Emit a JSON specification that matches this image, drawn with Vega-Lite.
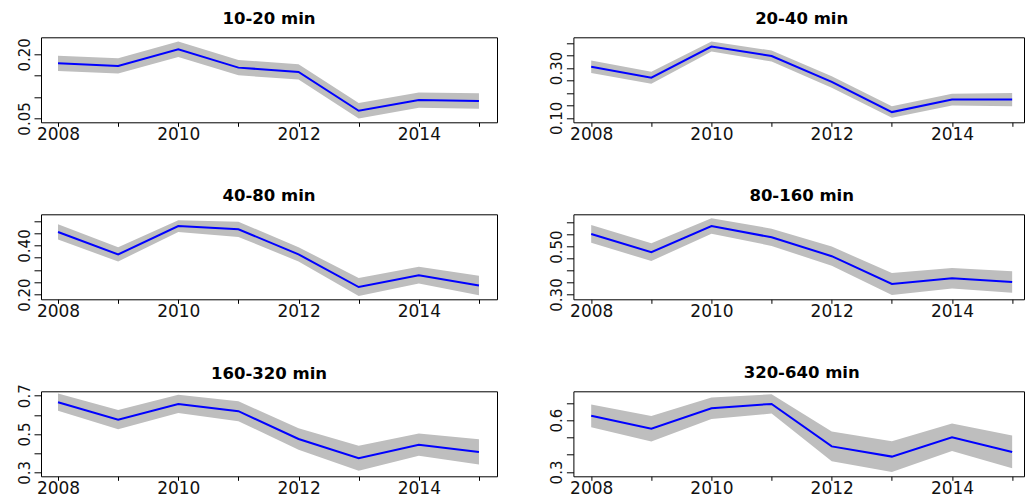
{
  "$schema": "https://vega.github.io/schema/vega-lite/v6.json",
  "autosize": {"type": "none"},
  "padding": {"left": 41, "top": 37.3, "right": 984, "bottom": 461.7},
  "background": "white",
  "datasets": {
    "bands": [
      {"panel": "10-20 min", "year": 2008, "est": 0.179, "lo": 0.161, "hi": 0.197},
      {"panel": "10-20 min", "year": 2009, "est": 0.173, "lo": 0.155, "hi": 0.191},
      {"panel": "10-20 min", "year": 2010, "est": 0.212, "lo": 0.194, "hi": 0.230},
      {"panel": "10-20 min", "year": 2011, "est": 0.169, "lo": 0.151, "hi": 0.187},
      {"panel": "10-20 min", "year": 2012, "est": 0.159, "lo": 0.141, "hi": 0.177},
      {"panel": "10-20 min", "year": 2013, "est": 0.068, "lo": 0.050, "hi": 0.086},
      {"panel": "10-20 min", "year": 2014, "est": 0.093, "lo": 0.075, "hi": 0.111},
      {"panel": "10-20 min", "year": 2015, "est": 0.091, "lo": 0.073, "hi": 0.109},

      {"panel": "20-40 min", "year": 2008, "est": 0.305, "lo": 0.280, "hi": 0.330},
      {"panel": "20-40 min", "year": 2009, "est": 0.261, "lo": 0.237, "hi": 0.285},
      {"panel": "20-40 min", "year": 2010, "est": 0.386, "lo": 0.366, "hi": 0.406},
      {"panel": "20-40 min", "year": 2011, "est": 0.348, "lo": 0.326, "hi": 0.370},
      {"panel": "20-40 min", "year": 2012, "est": 0.244, "lo": 0.221, "hi": 0.267},
      {"panel": "20-40 min", "year": 2013, "est": 0.123, "lo": 0.100, "hi": 0.146},
      {"panel": "20-40 min", "year": 2014, "est": 0.173, "lo": 0.149, "hi": 0.197},
      {"panel": "20-40 min", "year": 2015, "est": 0.173, "lo": 0.146, "hi": 0.200},

      {"panel": "40-80 min", "year": 2008, "est": 0.455, "lo": 0.424, "hi": 0.486},
      {"panel": "40-80 min", "year": 2009, "est": 0.364, "lo": 0.335, "hi": 0.393},
      {"panel": "40-80 min", "year": 2010, "est": 0.479, "lo": 0.455, "hi": 0.503},
      {"panel": "40-80 min", "year": 2011, "est": 0.466, "lo": 0.435, "hi": 0.497},
      {"panel": "40-80 min", "year": 2012, "est": 0.364, "lo": 0.335, "hi": 0.393},
      {"panel": "40-80 min", "year": 2013, "est": 0.231, "lo": 0.194, "hi": 0.268},
      {"panel": "40-80 min", "year": 2014, "est": 0.279, "lo": 0.245, "hi": 0.313},
      {"panel": "40-80 min", "year": 2015, "est": 0.237, "lo": 0.197, "hi": 0.277},

      {"panel": "80-160 min", "year": 2008, "est": 0.553, "lo": 0.516, "hi": 0.590},
      {"panel": "80-160 min", "year": 2009, "est": 0.477, "lo": 0.440, "hi": 0.514},
      {"panel": "80-160 min", "year": 2010, "est": 0.586, "lo": 0.554, "hi": 0.618},
      {"panel": "80-160 min", "year": 2011, "est": 0.539, "lo": 0.503, "hi": 0.575},
      {"panel": "80-160 min", "year": 2012, "est": 0.460, "lo": 0.420, "hi": 0.500},
      {"panel": "80-160 min", "year": 2013, "est": 0.344, "lo": 0.298, "hi": 0.390},
      {"panel": "80-160 min", "year": 2014, "est": 0.368, "lo": 0.325, "hi": 0.411},
      {"panel": "80-160 min", "year": 2015, "est": 0.352, "lo": 0.307, "hi": 0.397},

      {"panel": "160-320 min", "year": 2008, "est": 0.666, "lo": 0.621, "hi": 0.711},
      {"panel": "160-320 min", "year": 2009, "est": 0.575, "lo": 0.525, "hi": 0.625},
      {"panel": "160-320 min", "year": 2010, "est": 0.657, "lo": 0.609, "hi": 0.705},
      {"panel": "160-320 min", "year": 2011, "est": 0.619, "lo": 0.567, "hi": 0.671},
      {"panel": "160-320 min", "year": 2012, "est": 0.474, "lo": 0.418, "hi": 0.530},
      {"panel": "160-320 min", "year": 2013, "est": 0.373, "lo": 0.308, "hi": 0.438},
      {"panel": "160-320 min", "year": 2014, "est": 0.444, "lo": 0.386, "hi": 0.502},
      {"panel": "160-320 min", "year": 2015, "est": 0.406, "lo": 0.340, "hi": 0.472},

      {"panel": "320-640 min", "year": 2008, "est": 0.625, "lo": 0.559, "hi": 0.691},
      {"panel": "320-640 min", "year": 2009, "est": 0.550, "lo": 0.476, "hi": 0.624},
      {"panel": "320-640 min", "year": 2010, "est": 0.669, "lo": 0.607, "hi": 0.731},
      {"panel": "320-640 min", "year": 2011, "est": 0.694, "lo": 0.638, "hi": 0.750},
      {"panel": "320-640 min", "year": 2012, "est": 0.448, "lo": 0.362, "hi": 0.534},
      {"panel": "320-640 min", "year": 2013, "est": 0.389, "lo": 0.300, "hi": 0.478},
      {"panel": "320-640 min", "year": 2014, "est": 0.501, "lo": 0.422, "hi": 0.580},
      {"panel": "320-640 min", "year": 2015, "est": 0.416, "lo": 0.321, "hi": 0.511}
    ]
  },
  "data": {"name": "bands"},
  "bounds": "flush",
  "columns": 2,
  "spacing": {"row": 92, "column": 76.4},
  "concat": [
    {
      "title": {"text": "10-20 min"},
      "width": 456, "height": 85,
      "transform": [{"filter": "datum.panel == '10-20 min'"}],
      "resolve": {"axis": {"y": "independent"}},
      "encoding": {
        "x": {"field": "year", "type": "quantitative", "title": null,
              "scale": {"domain": [2007.717, 2015.3], "nice": false, "zero": false},
              "axis": {"values": [2008, 2009, 2010, 2011, 2012, 2013, 2014, 2015], "format": "d",
                       "labelExpr": "datum.value % 2 == 0 ? datum.label : ''"}}
      },
      "layer": [
        {"mark": {"type": "area", "color": "#bebebe", "opacity": 1},
         "encoding": {
           "y": {"field": "lo", "type": "quantitative", "title": null,
                 "scale": {"domain": [0.041, 0.240], "nice": false, "zero": false},
                 "axis": {"orient": "left", "values": [0.05, 0.10, 0.15, 0.20], "labels": false}},
           "y2": {"field": "hi"}}},
        {"mark": {"type": "line", "color": "#0000ff", "strokeWidth": 2},
         "encoding": {"y": {"field": "est", "type": "quantitative", "title": null,
                            "axis": {"orient": "left", "values": [0.05, 0.20], "format": ".2f", "ticks": false}}}}
      ]
    },
    {
      "title": {"text": "20-40 min", "dx": 3},
      "width": 450.6, "height": 85,
      "transform": [{"filter": "datum.panel == '20-40 min'"}],
      "resolve": {"axis": {"y": "independent"}},
      "encoding": {
        "x": {"field": "year", "type": "quantitative", "title": null,
              "scale": {"domain": [2007.704, 2015.197], "nice": false, "zero": false},
              "axis": {"values": [2008, 2009, 2010, 2011, 2012, 2013, 2014, 2015], "format": "d",
                       "labelExpr": "datum.value % 2 == 0 ? datum.label : ''"}}
      },
      "layer": [
        {"mark": {"type": "area", "color": "#bebebe", "opacity": 1},
         "encoding": {
           "y": {"field": "lo", "type": "quantitative", "title": null,
                 "scale": {"domain": [0.082, 0.423], "nice": false, "zero": false},
                 "axis": {"orient": "left", "values": [0.10, 0.15, 0.20, 0.25, 0.30, 0.35, 0.40], "labels": false}},
           "y2": {"field": "hi"}}},
        {"mark": {"type": "line", "color": "#0000ff", "strokeWidth": 2},
         "encoding": {"y": {"field": "est", "type": "quantitative", "title": null,
                            "axis": {"orient": "left", "values": [0.10, 0.30], "format": ".2f", "ticks": false}}}}
      ]
    },
    {
      "title": {"text": "40-80 min"},
      "width": 456, "height": 85,
      "transform": [{"filter": "datum.panel == '40-80 min'"}],
      "resolve": {"axis": {"y": "independent"}},
      "encoding": {
        "x": {"field": "year", "type": "quantitative", "title": null,
              "scale": {"domain": [2007.717, 2015.3], "nice": false, "zero": false},
              "axis": {"values": [2008, 2009, 2010, 2011, 2012, 2013, 2014, 2015], "format": "d",
                       "labelExpr": "datum.value % 2 == 0 ? datum.label : ''"}}
      },
      "layer": [
        {"mark": {"type": "area", "color": "#bebebe", "opacity": 1},
         "encoding": {
           "y": {"field": "lo", "type": "quantitative", "title": null,
                 "scale": {"domain": [0.181, 0.527], "nice": false, "zero": false},
                 "axis": {"orient": "left", "values": [0.20, 0.25, 0.30, 0.35, 0.40, 0.45, 0.50], "labels": false}},
           "y2": {"field": "hi"}}},
        {"mark": {"type": "line", "color": "#0000ff", "strokeWidth": 2},
         "encoding": {"y": {"field": "est", "type": "quantitative", "title": null,
                            "axis": {"orient": "left", "values": [0.20, 0.40], "format": ".2f", "ticks": false}}}}
      ]
    },
    {
      "title": {"text": "80-160 min", "dx": 3},
      "width": 450.6, "height": 85,
      "transform": [{"filter": "datum.panel == '80-160 min'"}],
      "resolve": {"axis": {"y": "independent"}},
      "encoding": {
        "x": {"field": "year", "type": "quantitative", "title": null,
              "scale": {"domain": [2007.704, 2015.197], "nice": false, "zero": false},
              "axis": {"values": [2008, 2009, 2010, 2011, 2012, 2013, 2014, 2015], "format": "d",
                       "labelExpr": "datum.value % 2 == 0 ? datum.label : ''"}}
      },
      "layer": [
        {"mark": {"type": "area", "color": "#bebebe", "opacity": 1},
         "encoding": {
           "y": {"field": "lo", "type": "quantitative", "title": null,
                 "scale": {"domain": [0.280, 0.635], "nice": false, "zero": false},
                 "axis": {"orient": "left", "values": [0.30, 0.35, 0.40, 0.45, 0.50, 0.55, 0.60], "labels": false}},
           "y2": {"field": "hi"}}},
        {"mark": {"type": "line", "color": "#0000ff", "strokeWidth": 2},
         "encoding": {"y": {"field": "est", "type": "quantitative", "title": null,
                            "axis": {"orient": "left", "values": [0.30, 0.50], "format": ".2f", "ticks": false}}}}
      ]
    },
    {
      "title": {"text": "160-320 min", "offset": 1.5},
      "width": 456, "height": 85,
      "transform": [{"filter": "datum.panel == '160-320 min'"}],
      "resolve": {"axis": {"y": "independent"}},
      "encoding": {
        "x": {"field": "year", "type": "quantitative", "title": null,
              "scale": {"domain": [2007.717, 2015.3], "nice": false, "zero": false},
              "axis": {"values": [2008, 2009, 2010, 2011, 2012, 2013, 2014, 2015], "format": "d",
                       "labelExpr": "datum.value % 2 == 0 ? datum.label : ''"}}
      },
      "layer": [
        {"mark": {"type": "area", "color": "#bebebe", "opacity": 1},
         "encoding": {
           "y": {"field": "lo", "type": "quantitative", "title": null,
                 "scale": {"domain": [0.279, 0.723], "nice": false, "zero": false},
                 "axis": {"orient": "left", "values": [0.3, 0.4, 0.5, 0.6, 0.7], "labels": false}},
           "y2": {"field": "hi"}}},
        {"mark": {"type": "line", "color": "#0000ff", "strokeWidth": 2},
         "encoding": {"y": {"field": "est", "type": "quantitative", "title": null,
                            "axis": {"orient": "left", "values": [0.3, 0.5, 0.7], "format": ".1f", "ticks": false}}}}
      ]
    },
    {
      "title": {"text": "320-640 min", "dx": 3},
      "width": 450.6, "height": 85,
      "transform": [{"filter": "datum.panel == '320-640 min'"}],
      "resolve": {"axis": {"y": "independent"}},
      "encoding": {
        "x": {"field": "year", "type": "quantitative", "title": null,
              "scale": {"domain": [2007.704, 2015.197], "nice": false, "zero": false},
              "axis": {"values": [2008, 2009, 2010, 2011, 2012, 2013, 2014, 2015], "format": "d",
                       "labelExpr": "datum.value % 2 == 0 ? datum.label : ''"}}
      },
      "layer": [
        {"mark": {"type": "area", "color": "#bebebe", "opacity": 1},
         "encoding": {
           "y": {"field": "lo", "type": "quantitative", "title": null,
                 "scale": {"domain": [0.275, 0.767], "nice": false, "zero": false},
                 "axis": {"orient": "left", "values": [0.3, 0.4, 0.5, 0.6, 0.7], "labels": false}},
           "y2": {"field": "hi"}}},
        {"mark": {"type": "line", "color": "#0000ff", "strokeWidth": 2},
         "encoding": {"y": {"field": "est", "type": "quantitative", "title": null,
                            "axis": {"orient": "left", "values": [0.3, 0.6], "format": ".1f", "ticks": false}}}}
      ]
    }
  ],
  "config": {
    "view": {"stroke": "#000000", "strokeWidth": 1},
    "title": {"font": "DejaVu Sans", "fontWeight": "bold", "fontSize": 16.5, "color": "#000000",
              "baseline": "alphabetic", "offset": 9.5, "anchor": "middle"},
    "axis": {"grid": false, "domain": false, "tickColor": "#000000", "tickWidth": 1,
             "labelColor": "#111111", "labelFont": "DejaVu Sans", "labelOverlap": false, "labelFlush": false,
             "minExtent": 0},
    "axisX": {"tickSize": 4, "labelFontSize": 17, "labelPadding": 0},
    "axisY": {"tickSize": 7, "labelFontSize": 15, "labelPadding": 8.5, "labelAngle": 270,
              "labelAlign": "center", "labelBaseline": "bottom"}
  }
}
